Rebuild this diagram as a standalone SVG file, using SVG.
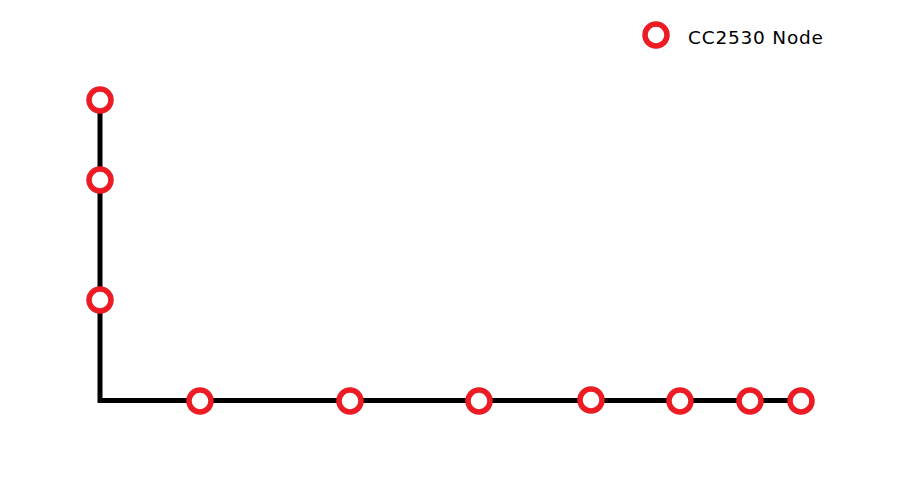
<svg xmlns="http://www.w3.org/2000/svg" width="906" height="504" viewBox="0 0 906 504">
<style>
.node{fill:#fff;stroke:#ed1c24;stroke-width:5.5}
.conn{fill:none;stroke:#000;stroke-width:5}
.lbl{font-family:"DejaVu Sans",Verdana,sans-serif;font-size:18.5px;fill:#000}
</style>
<rect width="906" height="504" fill="#fff"/>
<g id="connectors">
<path class="conn" d="M100,99 V400.5 H800"/>
</g>
<g id="n1"><circle class="node" cx="100" cy="100" r="11"/></g>
<g id="n2"><circle class="node" cx="100" cy="180" r="11"/></g>
<g id="n3"><circle class="node" cx="100" cy="300" r="11"/></g>
<g id="n4"><circle class="node" cx="200" cy="401" r="11"/></g>
<g id="n5"><circle class="node" cx="350" cy="401" r="11"/></g>
<g id="n6"><circle class="node" cx="479" cy="401" r="11"/></g>
<g id="n7"><circle class="node" cx="591" cy="400" r="11"/></g>
<g id="n8"><circle class="node" cx="680" cy="401" r="11"/></g>
<g id="n9"><circle class="node" cx="750" cy="401" r="11"/></g>
<g id="n10"><circle class="node" cx="801" cy="401" r="11"/></g>
<g id="legend">
<circle class="node" cx="656" cy="35" r="11"/>
<text class="lbl" x="688" y="43.5" textLength="135" lengthAdjust="spacing">CC2530 Node</text>
</g>
</svg>
